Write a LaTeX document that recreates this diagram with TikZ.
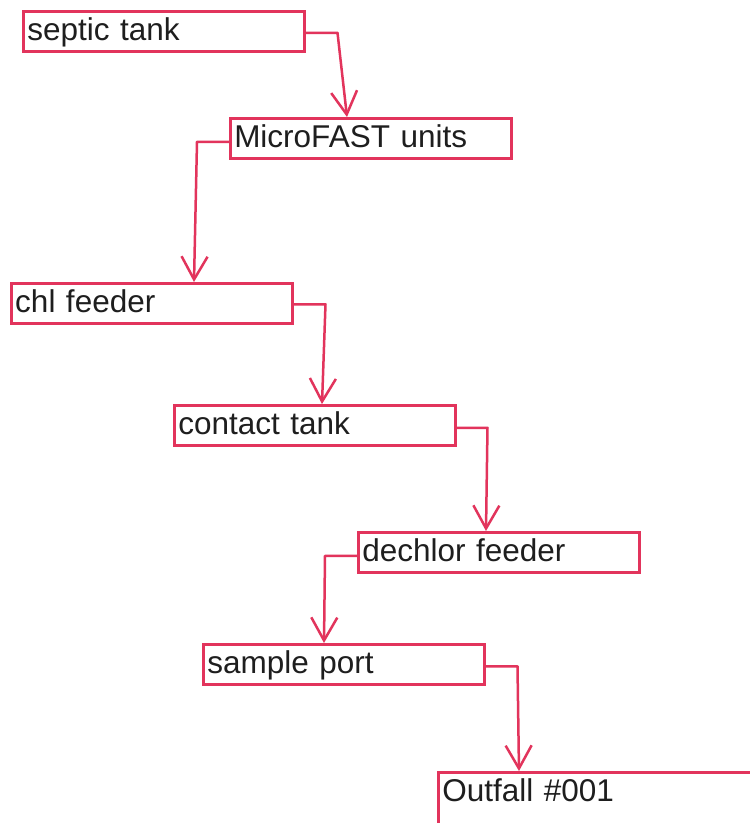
\documentclass[tikz,border=0pt]{standalone}
\usepackage{fontspec}
\setmainfont{Liberation Sans}
\usetikzlibrary{arrows.meta,calc}
\definecolor{lred}{HTML}{E2345C}
\definecolor{ink}{HTML}{1E1E1E}
\begin{document}
\begin{tikzpicture}[x=1pt,y=-1pt,
  box/.style={draw=lred,line width=2.5pt,anchor=north west,minimum height=40pt,
    inner xsep=4pt,inner ysep=0pt,text=ink,font=\fontsize{31.5}{31.5}\selectfont,
    text height=25pt,text depth=6pt,text width=273pt,align=left},
  flow/.style={draw=lred,line width=2.5pt,line join=round,
    -{Straight Barb[length=23pt,width=26pt]}}]
\useasboundingbox (0,0) rectangle (750,823);
\clip (0,0) rectangle (750,823);
\fill[white] (0,0) rectangle (750,823);

\node[box] (septic) at (22,10) {septic tank};
\node[box] (micro) at (229,117) {MicroFAST units};
\node[box] (chl) at (10,282) {chl feeder};
\node[box] (contact) at (173,404) {contact tank};
\node[box] (dechlor) at (357,531) {dechlor feeder};
\node[box] (sample) at (202,643) {sample port};
\node[box,minimum height=60pt,text height=29pt,text depth=31pt,text width=320pt] (outfall) at (437,771) {Outfall \#001};

\draw[flow] ($(septic.east)+(0,1.5)$) -- ($(septic.east)+(32,1.5)$) -- ($(micro.north west)+(118,0)$);
\draw[flow] ($(micro.west)+(0,3.5)$) -- ($(micro.west)+(-32,3.5)$) -- ($(chl.north west)+(184,0)$);
\draw[flow] ($(chl.east)+(0,1)$) -- ($(chl.east)+(32,1)$) -- ($(contact.north west)+(149,0)$);
\draw[flow] ($(contact.east)+(0,2.5)$) -- ($(contact.east)+(31,2.5)$) -- ($(dechlor.north west)+(129,0)$);
\draw[flow] ($(dechlor.west)+(0,3.5)$) -- ($(dechlor.west)+(-32,3.5)$) -- ($(sample.north west)+(122,0)$);
\draw[flow] ($(sample.east)+(0,2)$) -- ($(sample.east)+(32,2)$) -- ($(outfall.north west)+(82,0)$);
\end{tikzpicture}
\end{document}
